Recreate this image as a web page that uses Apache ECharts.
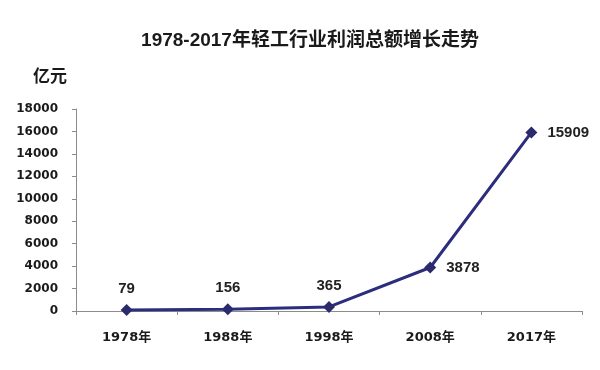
<!DOCTYPE html>
<html>
<head>
<meta charset="utf-8">
<script src="https://cdn.jsdelivr.net/npm/echarts@6/dist/echarts.min.js"></script>
<style>html,body{margin:0;padding:0;background:#fff}#c{width:600px;height:370px}</style>
</head>
<body>
<div id="c"></div>
<script>
const categories = ['1978年', '1988年', '1998年', '2008年', '2017年'];
const profits = [79, 156, 365, 3878, 15909];
const labelPositions = ['top', 'top', 'top', 'right', 'right'];
const yTicks = [0, 2000, 4000, 6000, 8000, 10000, 12000, 14000, 16000, 18000];

const chart = echarts.init(document.getElementById('c'), null, {renderer: 'canvas'});
const numFont = '"DejaVu Sans", "Noto Sans CJK SC", sans-serif';
chart.setOption({
  animation: false,
  backgroundColor: '#ffffff',
  title: {
    text: '1978-2017年轻工行业利润总额增长走势',
    left: 305, top: 26, textAlign: 'center',
    textStyle: {fontFamily: '"Liberation Sans", "Noto Sans CJK SC", sans-serif', fontSize: 19, fontWeight: 'bold', color: '#1a1a1a'}
  },
  graphic: [{
    type: 'text', left: 33, top: 67,
    style: {text: '亿元', font: 'bold 17px "Noto Sans CJK SC", sans-serif', fill: '#1a1a1a'}
  }],
  grid: {left: 76, right: 18, top: 109, bottom: 59},
  xAxis: {
    type: 'category',
    data: categories,
    boundaryGap: true,
    axisLine: {lineStyle: {color: '#8c8c8c', width: 1}},
    axisTick: {show: true, length: 4, lineStyle: {color: '#8c8c8c'}},
    axisLabel: {fontFamily: numFont, fontSize: 13, fontWeight: 'bold', color: '#1a1a1a', margin: 20}
  },
  yAxis: {
    type: 'value',
    min: yTicks[0], max: yTicks[yTicks.length - 1], interval: 2000,
    axisLine: {show: true, lineStyle: {color: '#8c8c8c', width: 1}},
    axisTick: {show: true, length: 4, lineStyle: {color: '#8c8c8c'}},
    splitLine: {show: false},
    axisLabel: {fontFamily: numFont, fontSize: 12, fontWeight: 'bold', color: '#1a1a1a', margin: 18,
      formatter: v => String(v)}
  },
  series: [{
    type: 'line',
    data: profits.map((v, i) => ({
      value: v,
      label: {position: labelPositions[i], distance: labelPositions[i] === 'right' ? 10 : 8}
    })),
    symbol: 'diamond',
    symbolSize: 12,
    lineStyle: {color: '#2d2d7d', width: 3},
    itemStyle: {color: '#2a2a6c'},
    label: {
      show: true,
      fontFamily: '"Liberation Sans", sans-serif', fontSize: 15, fontWeight: 'bold', color: '#222222'
    },
    z: 5
  }]
});
</script>
</body>
</html>
